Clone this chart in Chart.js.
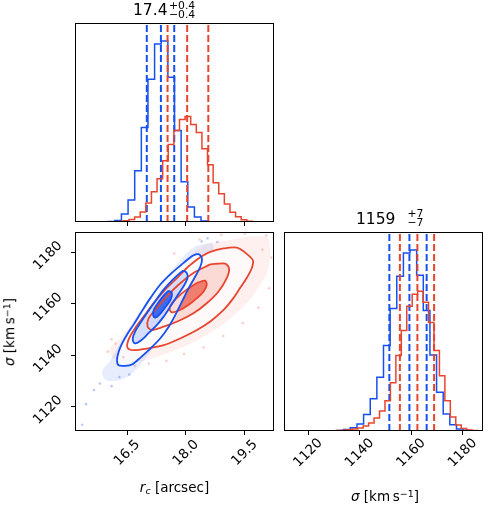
<!DOCTYPE html>
<html>
<head>
<meta charset="utf-8">
<script src="https://cdn.jsdelivr.net/npm/chart.js@4.4.1/dist/chart.umd.min.js"></script>
<style>
  body { margin: 0; background: #fff; }
  #wrap { position: relative; width: 490px; height: 505px; overflow: hidden; font-family: "DejaVu Sans", sans-serif; color: #000; }
  #wrap canvas { position: absolute; left: 0; top: 0; }
  .t { position: absolute; white-space: nowrap; line-height: 1; }
  .ctr { transform: translateX(-50%); }
  .sb { font-size: 0.7em; position: relative; top: 0.22em; }
  .sp { font-size: 0.7em; position: relative; top: -0.42em; }
  .it { font-style: italic; }
</style>
</head>
<body>
<div id="wrap">
  <canvas id="histRc" width="490" height="505"></canvas>
  <canvas id="scatter" width="490" height="505"></canvas>
  <canvas id="histSig" width="490" height="505"></canvas>

  <!-- titles -->
  <div class="t" style="left:133px;top:2.9px;font-size:15.5px">17.4</div>
  <div class="t" style="left:169px;top:0.8px;font-size:10.8px">+0.4</div>
  <div class="t" style="left:169px;top:10.3px;font-size:10.8px">−0.4</div>
  <div class="t" style="left:356px;top:211.9px;font-size:15.5px">1159</div>
  <div class="t" style="left:407.5px;top:209.1px;font-size:10.8px">+7</div>
  <div class="t" style="left:407.5px;top:218.3px;font-size:10.8px">−7</div>

  <!-- axis labels -->
  <div class="t ctr" style="left:174.5px;top:481px;font-size:13.5px"><span class="it">r</span><span class="sb it">c</span> [arcsec]</div>
  <div class="t ctr" style="left:385px;top:489.6px;font-size:13.5px"><span class="it">σ</span> [km&#8201;s<span class="sp">−1</span>]</div>
  <div class="t" style="left:9.5px;top:331.5px;font-size:13.5px;transform:translate(-50%,-50%) rotate(-90deg)"><span class="it">σ</span> [km&#8201;s<span class="sp">−1</span>]</div>
</div>

<script>
// axis limits and ticks
const rcRange = [15.167, 20.247];
const sigRange = [1110.56, 1187.9];
const rcTicks = [16.5, 18.0, 19.5];
const rcTickLabels = ["16.5", "18.0", "19.5"];
const sigTicks = [1120, 1140, 1160, 1180];
const sigTickLabels = ["1120", "1140", "1160", "1180"];

// 1D histograms, 30 bins each
const rcBlueBins = [0, 0, 0, 0, 0.3, 0.5, 1.5, 8, 22, 51, 94, 142, 177, 180, 144, 91, 40, 15, 5, 1, 0, 0, 0, 0, 0, 0, 0, 0, 0, 0];
const rcRedRange = [15.83, 20.125];
const rcRedBins = [0.1, 0.2, 0.3, 0.6, 1.3, 2.5, 5, 10, 19, 30, 43, 61, 77, 91, 102, 105, 97, 89, 73, 57, 39, 28, 18, 9.7, 5.3, 2.3, 0.7, 0.3, 0.2, 0.1];
const sigBlueBins = [0, 0, 0, 0, 0, 0, 0, 0.2, 0.4, 1.5, 3.2, 7, 16.5, 32, 53.5, 85, 122, 154, 177, 180, 155, 120, 75.5, 38.5, 17, 6.3, 2, 0.7, 0.3, 0];
const sigRedRange = [1124.4, 1187.9];
const sigRedBins = [0, 0.1, 0.2, 0.4, 0.7, 1.2, 2, 3, 5, 8, 13, 20, 30, 48, 75, 100, 124, 136, 139, 128, 108, 80, 55, 30, 14, 6, 2.5, 1, 0.4, 0.1];

// 16 / 50 / 84 percent quantiles
const rcBlueQ = [17.0, 17.36, 17.70];
const rcRedQ = [17.53, 18.03, 18.57];
const sigBlueQ = [1151.5, 1159.3, 1166.0];
const sigRedQ = [1155.6, 1162.4, 1168.9];

// 2D contours, [r_c, sigma]
const blueOuter = [[18.28,1179.4],[18.36,1178.9],[18.41,1177.2],[18.36,1174.2],[18.24,1170.7],[18.07,1166.1],[17.90,1160.9],[17.73,1155.7],[17.56,1151.1],[17.34,1146.5],[17.09,1142.6],[16.83,1139.0],[16.62,1136.4],[16.45,1135.9],[16.28,1136.1],[16.24,1138.1],[16.28,1141.3],[16.37,1144.6],[16.49,1147.9],[16.66,1151.8],[16.87,1157.0],[17.09,1162.2],[17.34,1167.4],[17.64,1172.0],[17.94,1175.9],[18.15,1178.5],[18.28,1179.4]];
const blueMid = [[17.94,1172.9],[18.02,1172.0],[18.04,1170.0],[17.94,1166.8],[17.77,1162.9],[17.60,1158.9],[17.43,1155.0],[17.26,1151.8],[17.04,1148.5],[16.83,1145.5],[16.69,1144.6],[16.64,1146.3],[16.70,1149.2],[16.83,1152.4],[17.00,1156.3],[17.21,1160.9],[17.43,1165.5],[17.64,1169.0],[17.85,1172.0],[17.94,1172.9]];
const blueInner = [[17.56,1165.1],[17.64,1164.2],[17.61,1161.6],[17.47,1158.6],[17.33,1155.9],[17.21,1154.6],[17.16,1155.7],[17.19,1158.0],[17.30,1160.6],[17.43,1163.2],[17.56,1165.1]];
const redOuter = [[18.36,1178.1],[18.62,1180.2],[18.96,1181.5],[19.30,1181.8],[19.55,1179.4],[19.71,1176.8],[19.68,1173.9],[19.55,1170.0],[19.38,1166.1],[19.21,1162.2],[18.96,1157.6],[18.62,1153.1],[18.28,1149.8],[17.85,1146.5],[17.43,1143.9],[17.00,1142.6],[16.66,1142.0],[16.51,1142.9],[16.53,1145.9],[16.70,1150.5],[16.92,1155.0],[17.17,1160.2],[17.47,1165.5],[17.77,1170.0],[18.07,1174.6],[18.36,1178.1]];
const redMid = [[18.62,1175.3],[19.00,1175.6],[19.10,1173.7],[19.04,1170.0],[18.83,1164.8],[18.53,1160.2],[18.19,1156.3],[17.81,1153.3],[17.43,1151.1],[17.13,1149.8],[17.02,1151.1],[17.04,1154.1],[17.21,1157.6],[17.47,1162.2],[17.81,1167.4],[18.19,1172.0],[18.62,1175.3]];
const redInner = [[18.28,1168.1],[18.49,1169.0],[18.53,1167.4],[18.45,1164.8],[18.28,1162.2],[18.07,1159.6],[17.85,1157.6],[17.64,1156.7],[17.58,1158.0],[17.64,1160.2],[17.81,1162.9],[18.02,1165.5],[18.28,1168.1]];

// outskirts of the sample clouds
const redCloud = [[18.11,1179.2],[18.53,1183.1],[19.21,1185.0],[19.81,1186.3],[20.11,1185.0],[20.11,1173.9],[19.90,1167.4],[19.55,1160.2],[19.04,1153.1],[18.53,1147.9],[17.94,1143.3],[17.34,1139.8],[16.75,1137.4],[16.15,1138.7],[16.04,1142.0],[16.32,1146.5],[16.66,1153.1],[17.09,1162.2],[17.51,1170.0],[17.85,1175.3],[18.11,1179.2]];
const blueCloud = [[18.24,1182.4],[18.66,1183.7],[18.70,1180.5],[18.49,1175.9],[18.28,1168.7],[17.94,1158.3],[17.51,1149.2],[17.09,1141.3],[16.75,1134.8],[16.41,1130.9],[15.98,1130.2],[15.85,1133.5],[16.07,1138.1],[16.24,1142.6],[16.66,1153.1],[17.17,1164.8],[17.68,1173.9],[17.98,1179.2],[18.24,1182.4]];
const redDots = [[16.0,1141.4],[16.2,1144.5],[16.4,1139.2],[16.7,1135.8],[17.05,1136.8],[17.5,1137.8],[17.95,1140.5],[18.45,1143.0],[18.95,1147.5],[19.45,1152.5],[19.85,1158.5],[20.12,1166.0],[20.18,1178.0],[20.05,1186.5],[19.5,1187.2],[18.9,1186.8],[18.35,1185.0],[17.7,1179.5],[16.1,1146.2],[19.95,1181.0]];
const blueDots = [[15.35,1113.0],[15.45,1121.0],[15.65,1126.5],[15.8,1129.0],[16.1,1128.0],[16.3,1131.5],[16.55,1132.5],[18.55,1185.5],[18.8,1184.0],[18.4,1184.2]];

const BLUE = "#1750f0";
const RED = "#e8452f";

Chart.defaults.font.family = "DejaVu Sans";

// panel boxes on the 490x505 page
const boxRc = { l: 75, t: 23, r: 274, b: 222 };
const boxScatter = { l: 75, t: 232, r: 274, b: 431 };
const boxSig = { l: 284, t: 232, r: 483, b: 431 };

function pts(arr) {
    return arr.map(p => ({ x: p[0], y: p[1] }));
}

function histPoints(range, counts) {
    const w = (range[1] - range[0]) / counts.length;
    const out = [{ x: range[0], y: 0 }];
    counts.forEach((c, i) => out.push({ x: range[0] + i * w, y: c }));
    out.push({ x: range[1], y: counts[counts.length - 1] });
    out.push({ x: range[1], y: 0 });
    return out;
}

// frame on all four sides
const frame = {
    id: "frame",
    afterDatasetsDraw(chart) {
        const { ctx, chartArea: a } = chart;
        ctx.save();
        ctx.strokeStyle = "#000";
        ctx.lineWidth = 1;
        ctx.strokeRect(a.left + 0.5, a.top + 0.5, a.right - a.left - 1, a.bottom - a.top - 1);
        ctx.restore();
    }
};

// tick labels turned by 45 degrees, centred like matplotlib does
const rotTicks = {
    id: "rotTicks",
    afterDraw(chart, args, opts) {
        const { ctx, chartArea: a, scales } = chart;
        const put = (txt, x, y) => {
            ctx.save();
            ctx.translate(x, y);
            ctx.rotate(-Math.PI / 4);
            ctx.fillText(txt, 0, 0);
            ctx.restore();
        };
        ctx.save();
        ctx.fillStyle = "#000";
        ctx.font = '13.5px "DejaVu Sans"';
        ctx.textAlign = "center";
        ctx.textBaseline = "middle";
        (opts.xLabels || []).forEach((t, i) => put(t, scales.x.getPixelForValue(opts.xValues[i]), a.bottom + 22));
        (opts.yLabels || []).forEach((t, i) => put(t, a.left - 27, scales.y.getPixelForValue(opts.yValues[i]) + 3.5));
        ctx.restore();
    }
};

function axis(range, ticks, horizontal) {
    if (!ticks) return { type: "linear", display: false, min: range[0], max: range[1] };
    return {
        type: "linear",
        min: range[0],
        max: range[1],
        afterBuildTicks: s => { s.ticks = ticks.map(v => ({ value: v })); },
        afterFit: s => { if (horizontal) s.height = 0; else s.width = 0; },
        ticks: { display: false },
        grid: { drawOnChartArea: false, drawTicks: true, tickLength: 4, tickWidth: 1, tickColor: "#000" },
        border: { display: false }
    };
}

function baseOptions(box, x, y, tickText) {
    return {
        responsive: false,
        animation: false,
        events: [],
        layout: { padding: { left: box.l, top: box.t, right: 490 - box.r, bottom: 505 - box.b } },
        scales: { x, y },
        plugins: {
            legend: { display: false },
            tooltip: { enabled: false },
            filler: { drawTime: "beforeDatasetsDraw" },
            rotTicks: tickText
        }
    };
}

function dashed(q, top, color, order) {
    return q.map(v => ({
        data: [{ x: v, y: 0 }, { x: v, y: top }],
        borderColor: color,
        borderWidth: 2,
        borderDash: [7, 3],
        pointRadius: 0,
        order
    }));
}

function histChart(id, box, range, ticks, blueBins, redRange, redBins, blueQ, redQ, tickText) {
    const top = 1.1 * Math.max(...blueBins, ...redBins);
    new Chart(document.getElementById(id), {
        type: "line",
        data: {
            datasets: [
                { data: histPoints(range, blueBins), stepped: true, borderColor: BLUE, borderWidth: 1.5, pointRadius: 0, order: 4 },
                ...dashed(blueQ, top, BLUE, 3),
                { data: histPoints(redRange, redBins), stepped: true, borderColor: RED, borderWidth: 1.5, pointRadius: 0, order: 2 },
                ...dashed(redQ, top, RED, 1)
            ]
        },
        options: baseOptions(box, axis(range, ticks, true), axis([0, top], null, false), tickText),
        plugins: [frame, rotTicks]
    });
}

histChart("histRc", boxRc, rcRange, rcTicks, rcBlueBins, rcRedRange, rcRedBins, rcBlueQ, rcRedQ, {});
histChart("histSig", boxSig, sigRange, sigTicks, sigBlueBins, sigRedRange, sigRedBins, sigBlueQ, sigRedQ,
    { xLabels: sigTickLabels, xValues: sigTicks });

// 2D panel
function region(arr, fillColor, lineColor, order) {
    return {
        data: pts(arr),
        fill: "shape",
        backgroundColor: fillColor,
        borderColor: lineColor || "rgba(0,0,0,0)",
        borderWidth: lineColor ? 1.8 : 0,
        tension: 0.3,
        pointRadius: 0,
        order
    };
}

function dots(arr, color, order) {
    return { data: pts(arr), showLine: false, pointRadius: 1.3, pointBorderWidth: 0, pointBackgroundColor: color, order };
}

new Chart(document.getElementById("scatter"), {
    type: "line",
    data: {
        datasets: [
            dots(redDots, "rgba(232,69,47,0.25)", 21),
            dots(blueDots, "rgba(23,80,240,0.3)", 20),
            region(redCloud, "rgba(232,69,47,0.08)", null, 19),
            region(blueCloud, "rgba(23,80,240,0.10)", null, 18),
            region(redOuter, "rgba(255,250,249,1)", RED, 17),
            region(redMid, "rgba(236,100,80,0.22)", RED, 16),
            region(redInner, "rgba(232,69,47,0.62)", RED, 15),
            region(blueOuter, "rgba(255,255,255,0.75)", BLUE, 14),
            region(blueMid, "rgba(70,110,255,0.22)", BLUE, 13),
            region(blueInner, "rgba(23,80,240,0.8)", BLUE, 12)
        ]
    },
    options: baseOptions(boxScatter, axis(rcRange, rcTicks, true), axis(sigRange, sigTicks, false),
        { xLabels: rcTickLabels, xValues: rcTicks, yLabels: sigTickLabels, yValues: sigTicks }),
    plugins: [frame, rotTicks]
});
</script>
</body>
</html>
